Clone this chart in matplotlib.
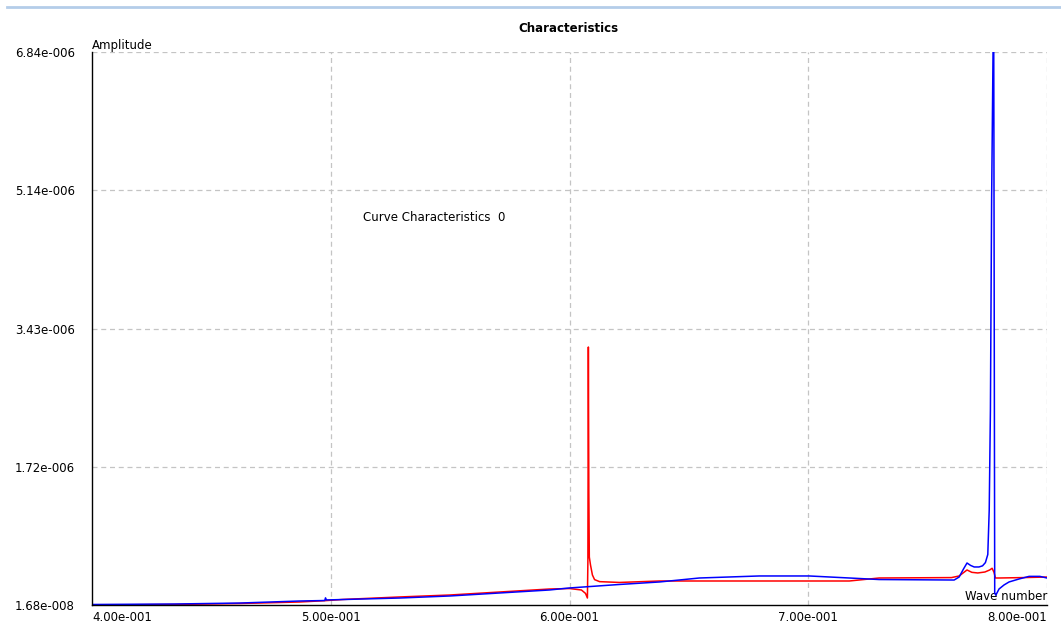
import matplotlib
matplotlib.use("Agg")
import matplotlib.pyplot as plt
from matplotlib.lines import Line2D

# Wave number samples and amplitudes for the two curves
wave_blue = [0.4000, 0.4347, 0.4619, 0.4870, 0.4975, 0.4978, 0.4982, 0.5289,
             0.5498, 0.5707, 0.5916, 0.6000, 0.6209, 0.6377, 0.6544, 0.6795,
             0.7004, 0.7172, 0.7297, 0.7611, 0.7632, 0.7650, 0.7665, 0.7680,
             0.7695, 0.7715, 0.7730, 0.7742, 0.7752, 0.7758, 0.7763, 0.7768,
             0.7774, 0.7777, 0.7781, 0.7786, 0.7799, 0.7820, 0.7841, 0.7883,
             0.7925, 0.7970, 0.8000]
amp_blue = [2.3e-8, 2.9e-8, 4.1e-8, 6.6e-8, 7.2e-8, 1.05e-7, 7.9e-8, 1.03e-7,
            1.28e-7, 1.65e-7, 2.02e-7, 2.27e-7, 2.70e-7, 3.01e-7, 3.50e-7, 3.75e-7,
            3.75e-7, 3.50e-7, 3.31e-7, 3.25e-7, 3.62e-7, 4.60e-7, 5.35e-7, 5.05e-7,
            4.86e-7, 4.86e-7, 5.00e-7, 5.40e-7, 6.40e-7, 1.19e-6, 2.42e-6, 5.01e-6,
            6.84e-6, 6.84e-6, 1.65e-7, 1.40e-7, 2.14e-7, 2.64e-7, 3.01e-7, 3.38e-7,
            3.70e-7, 3.70e-7, 3.50e-7]

wave_red = [0.4000, 0.4347, 0.4619, 0.4870, 0.4975, 0.5050, 0.5289, 0.5498,
            0.5707, 0.5916, 0.6000, 0.6050, 0.6067, 0.6075, 0.6077, 0.6079,
            0.6081, 0.6083, 0.6088, 0.6096, 0.6105, 0.6126, 0.6209, 0.6377,
            0.7172, 0.7297, 0.7600, 0.7632, 0.7665, 0.7685, 0.7710, 0.7740,
            0.7760, 0.7770, 0.7778, 0.7784, 0.7800, 0.7900, 0.8000]
amp_red = [1.68e-8, 2.3e-8, 3.5e-8, 5.4e-8, 7.0e-8, 8.5e-8, 1.16e-7, 1.40e-7,
           1.77e-7, 2.14e-7, 2.20e-7, 2.02e-7, 1.60e-7, 1.03e-7, 5.5e-7, 3.20e-6,
           1.40e-6, 6.09e-7, 5.10e-7, 3.87e-7, 3.30e-7, 3.05e-7, 2.95e-7, 3.13e-7,
           3.13e-7, 3.50e-7, 3.55e-7, 3.75e-7, 4.49e-7, 4.20e-7, 4.12e-7, 4.24e-7,
           4.49e-7, 4.70e-7, 4.20e-7, 3.50e-7, 3.50e-7, 3.55e-7, 3.62e-7]

x_ticks = [0.4, 0.5, 0.6, 0.7, 0.8]
x_tick_labels = ["4.00e-001", "5.00e-001", "6.00e-001", "7.00e-001", "8.00e-001"]
y_ticks = [1.68e-8, 1.7226e-6, 3.4284e-6, 5.1342e-6, 6.84e-6]
y_tick_labels = ["1.68e-008", "1.72e-006", "3.43e-006", "5.14e-006", "6.84e-006"]

W, H = 1061, 627
fig = plt.figure(figsize=(W / 100, H / 100), dpi=100)
fig.patch.set_facecolor("white")

# thin header rule across the top of the window
fig.add_artist(Line2D([7 / W, 1.0], [1 - 7 / H, 1 - 7 / H], transform=fig.transFigure,
                      color="#b4cde9", lw=2))

ax = fig.add_axes([92 / W, 1 - 605 / H, (1047 - 92) / W, (605 - 52) / H])
ax.set_xlim(0.4, 0.8)
ax.set_ylim(1.68e-8, 6.84e-6)

ax.plot(wave_red, amp_red, color="#ff0000", lw=1.1, zorder=3)
ax.plot(wave_blue, amp_blue, color="#0000ff", lw=1.1, zorder=4)

for s in ("top", "right"):
    ax.spines[s].set_visible(False)
for s in ("left", "bottom"):
    ax.spines[s].set_color("black")
    ax.spines[s].set_linewidth(1.0)
    ax.spines[s].set_zorder(5)

grid_kw = dict(color="#c4c4c4", lw=0.9, ls=(0, (4, 3)), zorder=1)
for xv in x_ticks[1:]:
    ax.axvline(xv, **grid_kw)
for yv in y_ticks[1:]:
    ax.axhline(yv, **grid_kw)

ax.set_xticks(x_ticks)
ax.set_xticklabels(x_tick_labels)
ax.set_yticks(y_ticks)
ax.set_yticklabels(y_tick_labels)
ax.tick_params(axis="both", length=0, labelsize=8.5, colors="black")
ax.tick_params(axis="y", pad=12.5)
ax.tick_params(axis="x", pad=4)
xlabels = ax.get_xticklabels()
xlabels[0].set_ha("left")
xlabels[-1].set_ha("right")

fs = 8.5
fig.text(568 / W, 1 - 29 / H, "Characteristics", ha="center", va="center",
         fontsize=fs, fontweight="bold")
ax.text(0.0, 1.0, "Amplitude", transform=ax.transAxes, ha="left", va="bottom",
        fontsize=fs)
ax.text(1.0, 0.004, "Wave number", transform=ax.transAxes, ha="right", va="bottom",
        fontsize=fs)
fig.text(363 / W, 1 - 217 / H, "Curve Characteristics  0", ha="left", va="center",
         fontsize=fs)

fig.savefig("out.png", dpi=100, facecolor="white")
